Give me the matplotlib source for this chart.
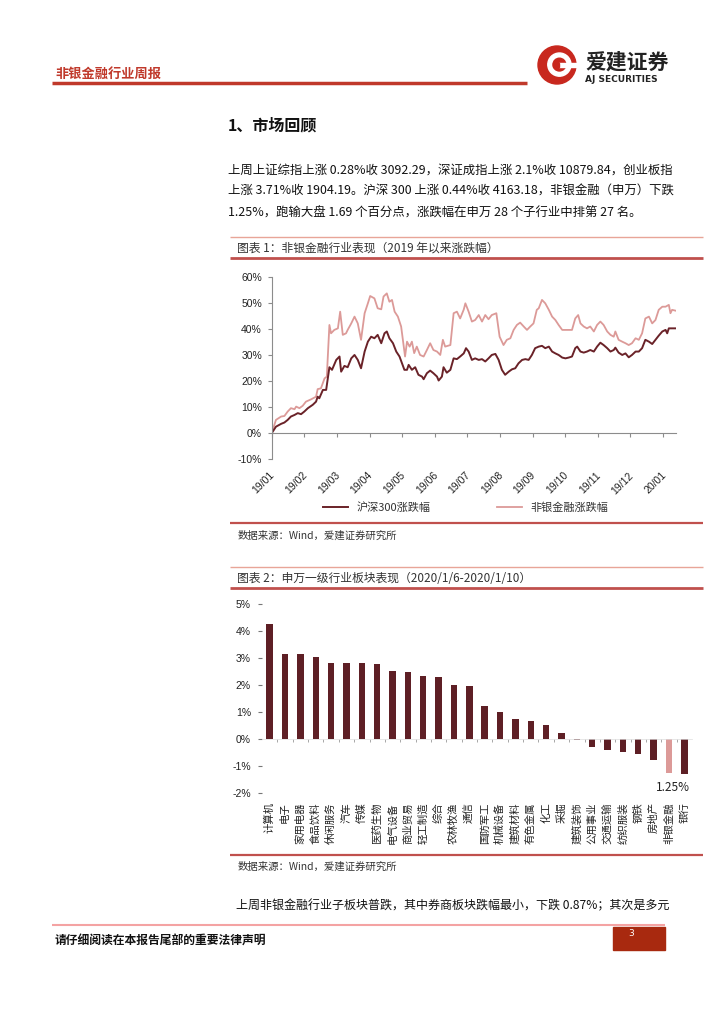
import matplotlib
matplotlib.use('Agg')
import matplotlib.pyplot as plt
from matplotlib.lines import Line2D
from matplotlib.patches import Circle, Rectangle
from matplotlib.ticker import FuncFormatter

plt.rcParams['font.family'] = ['Noto Sans CJK SC', 'DejaVu Sans']

W, H = 724, 1024

# 图表1：2019年以来涨跌幅（横轴单位：月，从19/01起）
hs300_t = [0, 0.13, 0.29, 0.39, 0.49, 0.59, 0.70, 0.80, 0.90, 1.00, 1.11, 1.26, 1.36, 1.41, 1.46,
           1.57, 1.67, 1.77, 1.85, 1.98, 2.08, 2.13, 2.23, 2.33, 2.44, 2.54, 2.64, 2.74, 2.85,
           2.95, 3.05, 3.15, 3.25, 3.36, 3.46, 3.53, 3.61, 3.72, 3.82, 3.92, 4.07, 4.15, 4.20,
           4.30, 4.40, 4.50, 4.61, 4.66, 4.76, 4.86, 4.96, 5.07, 5.12, 5.22, 5.27, 5.37, 5.48,
           5.58, 5.68, 5.78, 5.89, 5.96, 6.04, 6.14, 6.24, 6.35, 6.45, 6.55, 6.65, 6.75, 6.86,
           6.96, 7.06, 7.16, 7.27, 7.37, 7.47, 7.57, 7.68, 7.78, 7.88, 7.98, 8.08, 8.19, 8.29,
           8.39, 8.50, 8.60, 8.70, 8.80, 8.91, 9.01, 9.11, 9.21, 9.31, 9.37, 9.47, 9.57, 9.67,
           9.77, 9.88, 9.98, 10.08, 10.18, 10.29, 10.39, 10.49, 10.54, 10.64, 10.75, 10.85,
           10.95, 11.05, 11.16, 11.26, 11.36, 11.46, 11.57, 11.67, 11.77, 11.87, 11.98, 12.08,
           12.13, 12.18, 12.28, 12.38]
hs300_v = [0, 2.5, 3.6, 4.1, 5.1, 6.4, 7.0, 7.7, 7.3, 8.3, 9.6, 10.9, 12.1, 14.0, 13.4,
           16.6, 16.6, 25.3, 24.3, 28.1, 29.4, 23.6, 25.8, 25.3, 28.7, 30.0, 28.1, 24.9, 31.3,
           35.1, 37.0, 36.4, 37.7, 34.5, 38.3, 39.0, 36.4, 34.5, 31.3, 29.4, 24.3, 24.3, 26.2,
           24.3, 25.3, 22.4, 21.7, 20.7, 23.0, 24.0, 23.0, 21.7, 20.2, 21.7, 25.3, 23.2, 24.3,
           28.7, 28.4, 29.4, 30.6, 32.6, 31.3, 28.1, 28.7, 28.1, 28.4, 27.5, 28.7, 30.0, 30.4,
           28.1, 24.3, 22.4, 23.6, 24.5, 24.9, 26.8, 28.1, 28.4, 28.1, 30.0, 32.6, 33.2, 33.5,
           32.6, 33.2, 31.3, 30.6, 30.0, 29.0, 28.7, 29.0, 29.4, 32.6, 33.2, 31.3, 30.9, 31.3,
           31.9, 31.3, 33.2, 34.7, 33.8, 32.6, 31.3, 31.9, 32.8, 30.9, 30.0, 30.6,
           29.1, 30.0, 31.3, 31.3, 32.6, 35.8, 35.1, 34.2, 35.8, 37.4, 39.0, 39.6,
           38.3, 40.2, 40.2, 40.2]

fin_t = [0, 0.13, 0.29, 0.39, 0.49, 0.59, 0.70, 0.75, 0.85, 0.95, 1.05, 1.21, 1.36, 1.41, 1.51,
         1.62, 1.69, 1.77, 1.82, 1.92, 2.03, 2.10, 2.18, 2.28, 2.33, 2.44, 2.54, 2.64, 2.74,
         2.85, 2.95, 3.02, 3.15, 3.25, 3.36, 3.43, 3.53, 3.61, 3.69, 3.77, 3.87, 3.97, 4.09,
         4.15, 4.23, 4.30, 4.37, 4.45, 4.55, 4.66, 4.76, 4.86, 4.96, 5.07, 5.17, 5.25, 5.32,
         5.48, 5.58, 5.68, 5.78, 5.89, 5.94, 6.04, 6.14, 6.24, 6.35, 6.45, 6.55, 6.65, 6.75,
         6.89, 6.99, 7.11, 7.21, 7.32, 7.42, 7.52, 7.62, 7.73, 7.83, 7.93, 8.03, 8.13, 8.19,
         8.29, 8.39, 8.50, 8.60, 8.70, 8.80, 8.91, 9.11, 9.21, 9.31, 9.40, 9.47, 9.57, 9.67,
         9.77, 9.88, 9.98, 10.08, 10.18, 10.29, 10.39, 10.49, 10.54, 10.64, 10.75, 10.85,
         10.95, 11.05, 11.16, 11.26, 11.36, 11.46, 11.57, 11.67, 11.77, 11.87, 11.98, 12.08,
         12.18, 12.23, 12.28, 12.38]
fin_v = [0, 5.1, 6.4, 6.6, 8.3, 9.6, 9.2, 10.2, 9.6, 10.5, 12.1, 13.0, 14.0, 16.9, 17.2,
         21.0, 21.7, 41.5, 38.3, 39.6, 40.2, 46.6, 37.7, 38.3, 39.6, 42.1, 44.7, 42.1, 35.8,
         46.0, 49.8, 52.6, 51.7, 47.9, 47.5, 52.4, 53.6, 50.4, 51.1, 46.6, 44.7, 40.9, 29.4,
         35.1, 33.2, 35.1, 30.7, 33.2, 30.0, 29.4, 31.9, 34.5, 31.9, 31.3, 30.0, 35.8, 33.2,
         33.8, 46.0, 46.6, 44.0, 47.4, 49.8, 46.6, 42.8, 43.4, 45.3, 42.8, 45.3, 43.7, 45.3,
         46.0, 37.0, 33.8, 35.8, 36.4, 39.6, 41.5, 42.4, 40.9, 39.6, 40.9, 42.1, 47.3, 47.9,
         51.1, 49.8, 47.3, 44.7, 43.4, 41.5, 39.6, 39.6, 39.6, 44.0, 45.3, 42.1, 40.9, 40.2,
         40.9, 39.0, 41.5, 42.8, 41.5, 39.0, 37.7, 37.0, 39.0, 35.8, 35.1, 34.5,
         33.8, 34.5, 36.4, 35.8, 38.3, 44.0, 44.7, 42.1, 43.4, 47.3, 48.5, 48.5,
         49.2, 46.0, 47.3, 47.0]

month_labels = ['19/01', '19/02', '19/03', '19/04', '19/05', '19/06', '19/07',
                '19/08', '19/09', '19/10', '19/11', '19/12', '20/01']

# 图表2：申万一级行业周涨跌幅（%）
industries = ['计算机', '电子', '家用电器', '食品饮料', '休闲服务', '汽车', '传媒', '医药生物',
              '电气设备', '商业贸易', '轻工制造', '综合', '农林牧渔', '通信', '国防军工',
              '机械设备', '建筑材料', '有色金属', '化工', '采掘', '建筑装饰', '公用事业',
              '交通运输', '纺织服装', '钢铁', '房地产', '非银金融', '银行']
industry_chg = [4.28, 3.17, 3.14, 3.03, 2.83, 2.83, 2.82, 2.78, 2.53, 2.49, 2.33, 2.31, 1.99,
                1.96, 1.22, 0.99, 0.74, 0.67, 0.51, 0.22, -0.02, -0.28, -0.42, -0.47, -0.56,
                -0.77, -1.25, -1.31]

RED = '#C0392B'
DARK = '#5E1F25'
PINK = '#DC9A98'


def fx(x):
    return x / W


def fy(y):
    return 1 - y / H


def hline(x0, x1, y, color, lw):
    fig.add_artist(Line2D([fx(x0), fx(x1)], [fy(y), fy(y)], color=color, lw=lw,
                          transform=fig.transFigure, solid_capstyle='butt'))


fig = plt.figure(figsize=(W / 100, H / 100), dpi=100)

# 页眉
fig.text(fx(55), fy(74), '非银金融行业周报', fontsize=9.5, color=RED, weight='bold', va='center')
hline(52, 527, 83, RED, 2.5)
logo = fig.add_axes([fx(537), fy(85), 40 / W, 40 / H])
logo.set_xlim(-1, 1)
logo.set_ylim(-1, 1)
logo.axis('off')
logo.add_patch(Circle((0, 0), 0.95, color='#C8281E'))
logo.add_patch(Circle((0.12, 0.02), 0.58, color='white'))
logo.add_patch(Circle((0.12, 0.02), 0.32, color='#C8281E'))
logo.add_patch(Rectangle((0.12, -0.1), 0.9, 0.22, color='white'))
logo.add_patch(Rectangle((-0.2, -0.1), 0.32, 0.22, color='#C8281E'))
fig.text(fx(585), fy(62), '爱建证券', fontsize=15, color='#222222', weight='bold', va='center')
fig.text(fx(585), fy(79), 'AJ SECURITIES', fontsize=6.5, color='#222222', weight='bold',
         va='center', family='DejaVu Sans')

# 正文
fig.text(fx(228), fy(125), '1、市场回顾', fontsize=11.5, weight='bold', va='center', color='#111111')
para = ['上周上证综指上涨 0.28%收 3092.29，深证成指上涨 2.1%收 10879.84，创业板指',
        '上涨 3.71%收 1904.19。沪深 300 上涨 0.44%收 4163.18，非银金融（申万）下跌',
        '1.25%，跑输大盘 1.69 个百分点，涨跌幅在申万 28 个子行业中排第 27 名。']
for i, line in enumerate(para):
    fig.text(fx(228), fy(170 + i * 21.5), line, fontsize=8.95, va='center', color='#111111')

# 图表1 标题
hline(230, 703, 237, '#E8A598', 1.0)
fig.text(fx(237), fy(248), '图表 1：非银金融行业表现（2019 年以来涨跌幅）', fontsize=8.5,
         va='center', color='#333333')
hline(230, 703, 258, '#C0504D', 2.0)

ax = fig.add_axes([fx(271.7), fy(459.3), (676 - 271.7) / W, (459.3 - 276.7) / H])
ax.plot(fin_t, fin_v, color=PINK, lw=1.3, label='非银金融涨跌幅')
ax.plot(hs300_t, hs300_v, color='#6A2228', lw=1.4, label='沪深300涨跌幅')
ax.set_xlim(0, 12.4)
ax.set_ylim(-10, 60)
ax.set_yticks(range(-10, 61, 10))
ax.yaxis.set_major_formatter(FuncFormatter(lambda v, p: f'{v:.0f}%'))
ax.set_xticks(range(len(month_labels)))
ax.spines['top'].set_visible(False)
ax.spines['right'].set_visible(False)
ax.spines['bottom'].set_position(('data', 0))
for s in ['left', 'bottom']:
    ax.spines[s].set_color('#8C8C8C')
    ax.spines[s].set_linewidth(0.8)
ax.tick_params(axis='both', direction='out', length=3, color='#8C8C8C', width=0.8)
ax.tick_params(axis='x', labelbottom=False)
ax.tick_params(axis='y', labelsize=7.5, labelcolor='#222222', pad=4)
for t in ax.get_yticklabels():
    t.set_family('Liberation Sans')
for i, lab in enumerate(month_labels):
    ax.text(i + 0.15, -0.06, lab, transform=ax.get_xaxis_transform(), rotation=45,
            ha='right', va='top', fontsize=7.5, family='Liberation Sans', color='#222222')
handles, labels = ax.get_legend_handles_labels()
ax.legend(handles[::-1], labels[::-1], ncol=2, loc='center', bbox_to_anchor=(0.48, -0.265),
          frameon=False, fontsize=8, handlelength=2.2, columnspacing=6, labelcolor='#333333')

hline(230, 703, 523, '#C0504D', 1.6)
fig.text(fx(238), fy(536), '数据来源：Wind，爱建证券研究所', fontsize=7.5, va='center', color='#333333')

# 图表2 标题
hline(230, 703, 567, '#E8A598', 1.0)
fig.text(fx(237), fy(578), '图表 2：申万一级行业板块表现（2020/1/6-2020/1/10）', fontsize=8.5,
         va='center', color='#333333')
hline(230, 703, 588, '#C0504D', 2.0)

ax2 = fig.add_axes([fx(262), fy(793), (692 - 262) / W, (793 - 604.3) / H])
pos = list(range(len(industries)))
colors = [PINK if n == '非银金融' else DARK for n in industries]
ax2.bar(pos, industry_chg, width=0.42, color=colors)
ax2.set_xlim(-0.5, len(industries) - 0.5)
ax2.set_ylim(-2, 5)
ax2.set_yticks(range(-2, 6))
ax2.yaxis.set_major_formatter(FuncFormatter(lambda v, p: f'{v:.0f}%'))
for s in ['top', 'right', 'left']:
    ax2.spines[s].set_visible(False)
ax2.spines['bottom'].set_position(('data', 0))
ax2.spines['bottom'].set_color('#DDDDDD')
ax2.spines['bottom'].set_linewidth(0.5)
ax2.set_xticks([p + 0.5 for p in pos[:-1]])
ax2.tick_params(axis='x', direction='out', length=2.5, color='#999999', width=0.6, labelbottom=False)
ax2.tick_params(axis='y', direction='out', length=3, color='#777777', width=0.8,
                labelsize=7.5, labelcolor='#222222', pad=5)
for t in ax2.get_yticklabels():
    t.set_family('Liberation Sans')
for p, name in zip(pos, industries):
    ax2.text(p, -0.048, name, transform=ax2.get_xaxis_transform(), rotation=90,
             ha='center', va='top', fontsize=7.5, color='#222222')
fi = industries.index('非银金融')
ax2.text(fi + 0.25, industry_chg[fi] - 0.55, f'{abs(industry_chg[fi]):.2f}%', ha='center',
         va='center', fontsize=8.5, color='#222222')

hline(230, 703, 855, '#C0504D', 1.6)
fig.text(fx(238), fy(867), '数据来源：Wind，爱建证券研究所', fontsize=7.5, va='center', color='#333333')

fig.text(fx(236), fy(906), '上周非银金融行业子板块普跌，其中券商板块跌幅最小，下跌 0.87%；其次是多元',
         fontsize=8.65, va='center', color='#111111')

# 页脚
hline(52, 665, 925, '#F4A3A3', 1.5)
fig.text(fx(55), fy(941), '请仔细阅读在本报告尾部的重要法律声明', fontsize=8.5, weight='bold',
         va='center', color='#111111')
fig.add_artist(Rectangle((fx(613), fy(950)), 52 / W, 23 / H, color='#A8290F',
                         transform=fig.transFigure))
fig.text(fx(628), fy(934), '3', fontsize=6.5, color='white', va='center', family='DejaVu Sans')

fig.savefig('out.png', dpi=100)
